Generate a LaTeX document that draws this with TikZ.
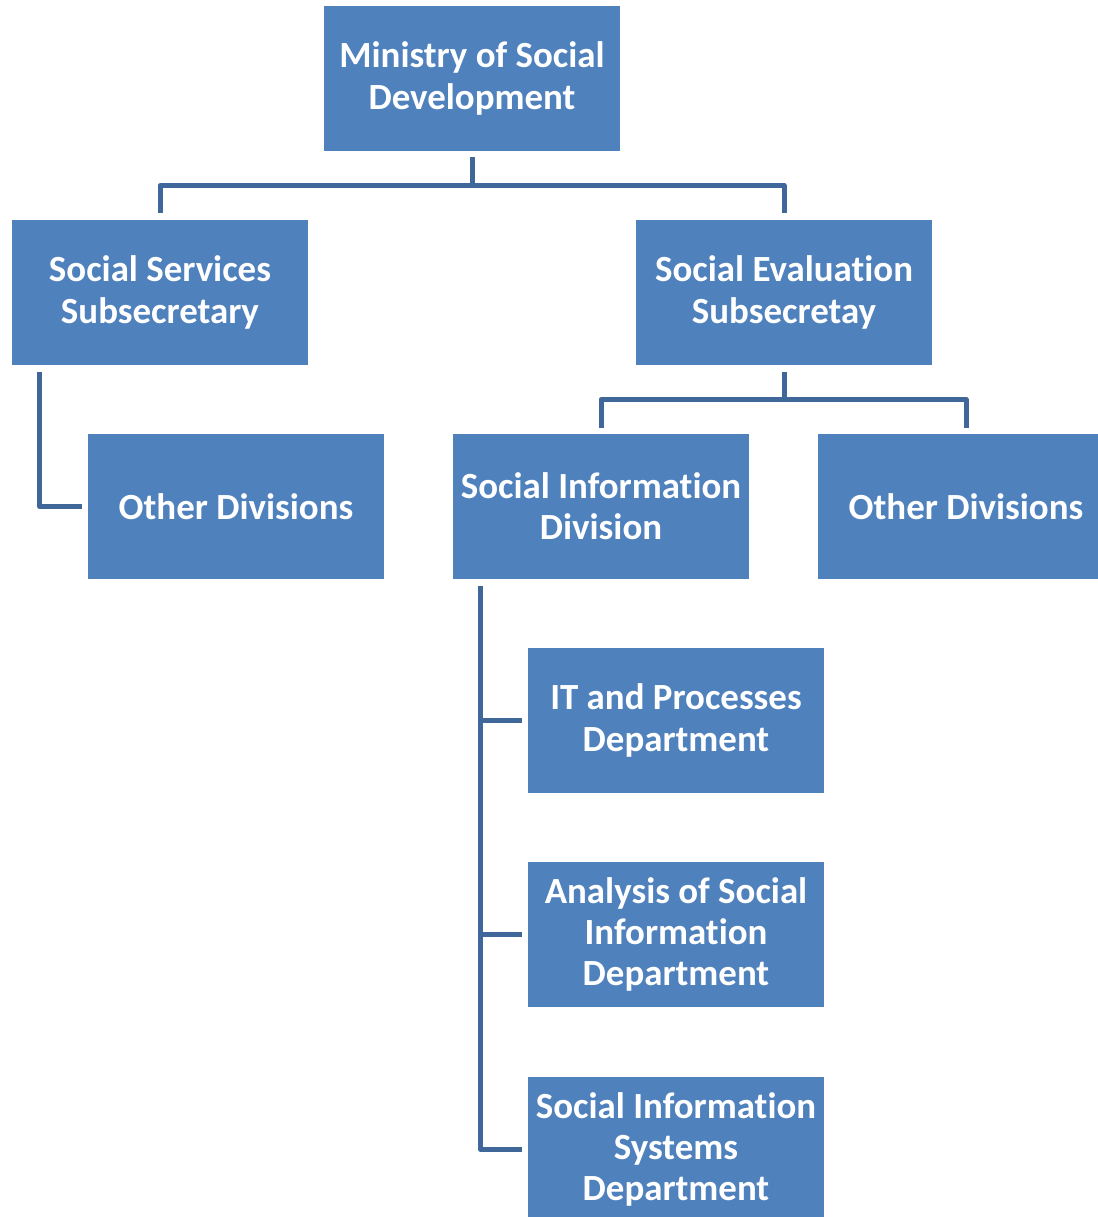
\documentclass[tikz,border=0pt]{standalone}
\usepackage{fontspec}
\setmainfont[Ligatures=NoCommon]{Carlito}
\usepackage{tikz}
\usetikzlibrary{positioning}
\definecolor{boxblue}{HTML}{4F81BD}
\definecolor{lineblue}{HTML}{3F679A}

\begin{document}
\begin{tikzpicture}[x=0.02cm,y=-0.02cm,
		unit/.style={rectangle, fill=boxblue, text=white, align=center, inner sep=2pt,
			minimum width=5.92cm, minimum height=2.9cm,
			font=\fontsize{21}{23.5}\selectfont\bfseries},
		conn/.style={draw=lineblue, line width=0.1cm, line join=round}]
			\useasboundingbox (0,0) rectangle (1098,1217);
			\node[unit] (msd)  at (472,78.5)  {Ministry of Social\\Development};
			\node[unit] (ssub) at (160,292.5) {Social Services\\Subsecretary};
			\node[unit] (esub) at (784,292.5) {Social Evaluation\\Subsecretay};
			\node[unit] (othl) at (236,506.5) {Other Divisions};
			\node[unit] (sid)  at (601,506.5) {Social Information\\Division};
			\node[unit] (othr) at (966,506.5) {Other Divisions};
			\node[unit] (itd)  at (676,720.5) {IT and Processes\\Department};
			\node[unit] (asd)  at (676,934.5) {Analysis of Social\\Information\\Department};
			\node[unit] (sisd) at (676,1149.5) {Social Information\\Systems\\Department};
			% top level
			\coordinate (msdbar) at ([yshift=-0.68cm]msd.south);
			\draw[conn] ([yshift=-0.12cm]msd.south) -- (msdbar);
			\draw[conn] ([yshift=0.14cm]ssub.north) |- (msdbar) -| ([yshift=0.14cm]esub.north);
			% services side
			\draw[conn] ([xshift=0.56cm,yshift=-0.14cm]ssub.south west) |- ([xshift=-0.12cm]othl.west);
			% evaluation side
			\coordinate (esubbar) at ([yshift=-0.68cm]esub.south);
			\draw[conn] ([yshift=-0.14cm]esub.south) -- (esubbar);
			\draw[conn] ([yshift=0.12cm]sid.north) |- (esubbar) -| ([yshift=0.12cm]othr.north);
			% departments
			\coordinate (trunk) at ([xshift=0.56cm,yshift=-0.14cm]sid.south west);
			\draw[conn] (trunk) |- ([xshift=-0.12cm]sisd.west);
			\draw[conn] (trunk |- itd.west) -- ([xshift=-0.12cm]itd.west);
			\draw[conn] (trunk |- asd.west) -- ([xshift=-0.12cm]asd.west);
		\end{tikzpicture}
\end{document}
